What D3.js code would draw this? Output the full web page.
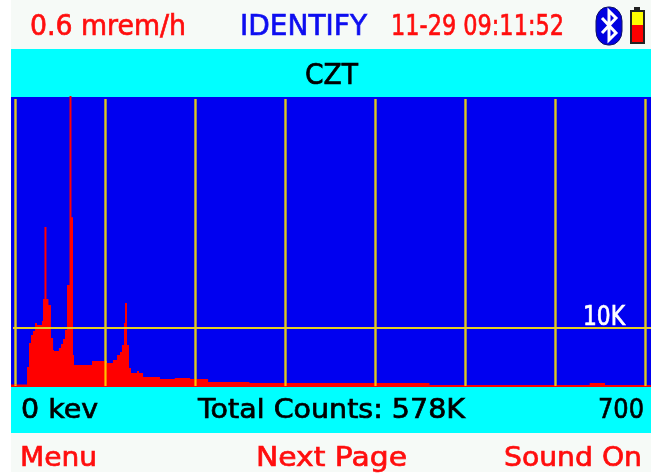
<!DOCTYPE html>
<html><head><meta charset="utf-8">
<script src="https://cdn.jsdelivr.net/npm/d3@7/dist/d3.min.js"></script>
<style>html,body{margin:0;padding:0;background:#fff}svg{display:block}</style>
</head><body><div id="c"></div>
<script>
// Channel start energy (keV) and counts
const channelKev = [-5,12.8,15,17.2,19.4,21.7,23.9,29.4,30.6,32.2,34.4,36.6,39.4,41.7,42.8,48.3,50.6,52.8,55,57.2,60,62.2,63.9,65,67.2,85,100.6,108.3,112.8,116.1,118.3,120.6,121.7,123.9,126.1,128.3,135,137.2,141.7,160.5,177,194,214,260,460,638,655];
const channelCounts = [260,3276,7414,8793,9483,10862,10517,11207,15000,27414,15000,13966,8276,6207,6030,6550,7240,8100,9650,17400,50000,29100,5340,3620,3620,4310,3970,4480,5340,5860,7070,10862,14300,7070,3100,2240,2590,2240,1550,1210,1380,1200,690,520,170,500,170];
const gridKev = [0,100,200,300,400,500,600,700];
const gridCounts = [10000];
const countLabel = "10K";
const statusDose = "0.6 mrem/h", statusMode = "IDENTIFY", statusTime = "11-29 09:11:52";
const detector = "CZT";
const axisStart = "0 kev", totalCounts = "Total Counts: 578K", axisEnd = "700";
const softKeys = ["Menu","Next Page","Sound On"];

const W=657,H=474;
const svg=d3.select("#c").append("svg").attr("width",W).attr("height",H);
const defs=svg.append("defs");
defs.append("filter").attr("id","soft").attr("x","-5%").attr("y","-5%").attr("width","110%").attr("height","110%")
  .append("feGaussianBlur").attr("stdDeviation",0.4);
const g=svg.append("g").attr("filter","url(#soft)");
const x=d3.scaleLinear().domain([0,700]).range([15.5,645.5]);
const y=d3.scaleLinear().domain([0,10000]).range([386,328]);
const F="'DejaVu Sans',sans-serif";

g.append("rect").attr("x",11).attr("y",0).attr("width",640).attr("height",472).attr("fill","#f6faf7");
g.append("rect").attr("x",11).attr("y",49).attr("width",640).attr("height",48).attr("fill","#00ffff");
g.append("rect").attr("x",11).attr("y",97).attr("width",640).attr("height",290).attr("fill","#0000f0");
g.append("rect").attr("x",11).attr("y",387).attr("width",640).attr("height",46).attr("fill","#00ffff");

const spec=channelKev.map((k,i)=>({k,c:channelCounts[i]}));
const area=d3.area().x(d=>x(d.k)).y0(y(0)+1).y1(d=>y(d.c)).curve(d3.curveStepAfter);

g.selectAll("line.v").data(gridKev).join("line").attr("class","v")
  .attr("x1",d=>x(d)).attr("x2",d=>x(d)).attr("y1",99).attr("y2",386)
  .attr("stroke","#ddc820").attr("stroke-width",2.4);
g.append("path").datum(spec.concat([{k:706,c:170}])).attr("d",area).attr("fill","#ff0000");
// grid shows through the red fill
g.selectAll("line.v2").data(gridKev).join("line").attr("class","v2")
  .attr("x1",d=>x(d)).attr("x2",d=>x(d)).attr("y1",d=>y(d3.bisectRight(channelKev,d)?channelCounts[d3.bisectRight(channelKev,d)-1]:0)).attr("y2",386)
  .attr("stroke","#ffc000").attr("stroke-width",2.2);
g.selectAll("line.h").data(gridCounts).join("line").attr("class","h")
  .attr("x1",13).attr("x2",651).attr("y1",d=>y(d)).attr("y2",d=>y(d))
  .attr("stroke","#e4ce20").attr("stroke-width",2.2);

function label(t,x0,x1,base,size,fill){
  g.append("text").text(t).attr("x",x0).attr("y",base)
   .attr("textLength",x1-x0).attr("lengthAdjust","spacingAndGlyphs")
   .attr("font-family",F).attr("font-size",size).attr("fill",fill)
   .attr("stroke",fill).attr("stroke-width",0.7);
}
label(statusDose,30,186,35,28,"#ff1010");
label(statusMode,240,367,35,29,"#1010f0");
label(statusTime,391,564,35,29,"#ff1010");
label(detector,305,358,84,28,"#000");
label(countLabel,583,625,325,26,"#fff");
label(axisStart,21,98,418,27,"#000");
label(totalCounts,198,465,418,27,"#000");
label(axisEnd,598,644,418,27,"#000");
label(softKeys[0],20,97,466,27,"#ff1010");
label(softKeys[1],256,407,466,27,"#ff1010");
label(softKeys[2],504,642,466,27,"#ff1010");

// Bluetooth badge
const bt=g.append("g");
bt.append("rect").attr("x",596).attr("y",7).attr("width",26).attr("height",38).attr("rx",12).attr("ry",14).attr("fill","#0000e0").attr("stroke","#101060").attr("stroke-width",1);
bt.append("path").attr("d","M602,18 L616,33 L609,40 L609,11 L616,18 L602,33").attr("fill","none").attr("stroke","#fff").attr("stroke-width",3);
// Battery
const bat=g.append("g");
bat.append("rect").attr("x",634).attr("y",7).attr("width",6).attr("height",4).attr("fill","#222");
bat.append("rect").attr("x",630).attr("y",10).attr("width",15).attr("height",34).attr("fill","#222");
bat.append("rect").attr("x",632).attr("y",12).attr("width",11).attr("height",13).attr("fill","#ffff00");
bat.append("rect").attr("x",632).attr("y",25).attr("width",11).attr("height",17).attr("fill","#ff0000");
</script></body></html>
